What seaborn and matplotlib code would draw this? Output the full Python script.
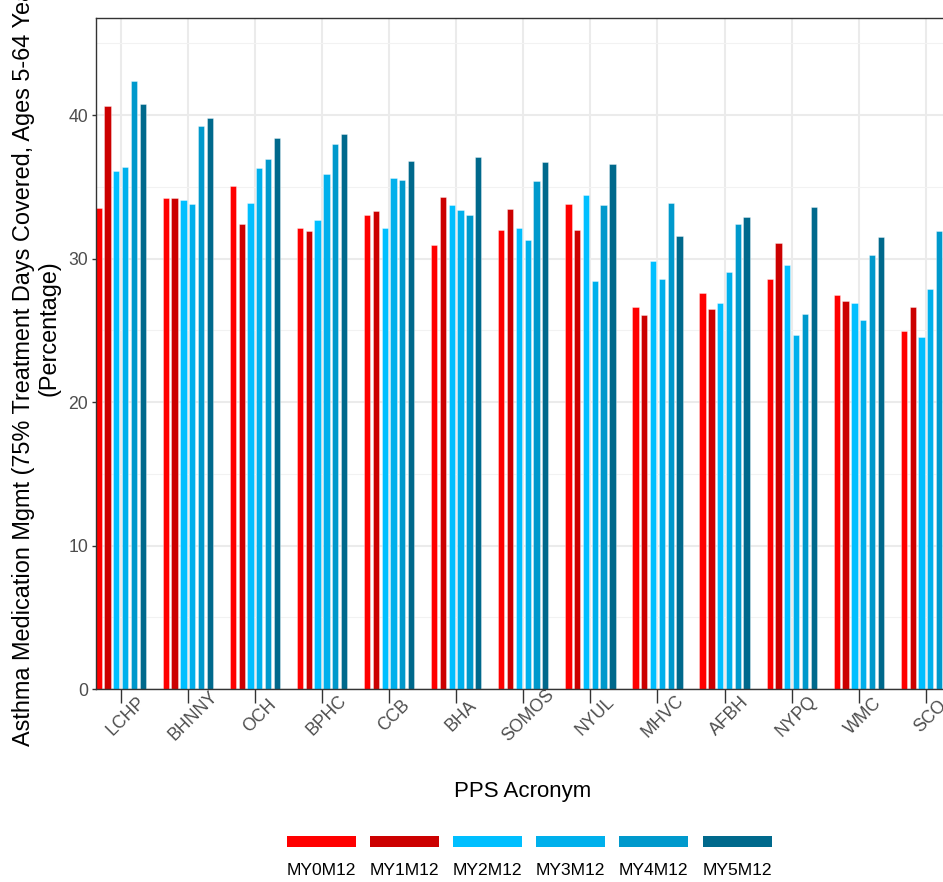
import numpy as np
import pandas as pd
import matplotlib
matplotlib.use("Agg")
import matplotlib.pyplot as plt
import matplotlib.transforms as mtransforms
from matplotlib.patches import Rectangle
from matplotlib.ticker import MultipleLocator
import seaborn as sns

pps = ["LCHP", "BHNNY", "OCH", "BPHC", "CCB", "BHA", "SOMOS",
       "NYUL", "MHVC", "AFBH", "NYPQ", "WMC", "SCO"]
periods = ["MY0M12", "MY1M12", "MY2M12", "MY3M12", "MY4M12", "MY5M12"]
colors = ["#FF0000", "#CC0000", "#00BFFF", "#00B0EC", "#0099CC", "#00698C"]

my0m12 = [33.5, 34.2, 35.05, 32.1, 33.05, 30.95, 32.0, 33.8, 26.65, 27.6, 28.6, 27.45, 24.95]
my1m12 = [40.6, 34.25, 32.4, 31.95, 33.3, 34.3, 33.45, 32.0, 26.05, 26.5, 31.1, 27.05, 26.65]
my2m12 = [36.1, 34.05, 33.85, 32.65, 32.1, 33.75, 32.15, 34.45, 29.8, 26.9, 29.55, 26.9, 24.55]
my3m12 = [36.35, 33.8, 36.3, 35.9, 35.6, 33.35, 31.3, 28.4, 28.55, 29.05, 24.7, 25.7, 27.9]
my4m12 = [42.4, 39.2, 36.9, 38.0, 35.5, 33.0, 35.4, 33.75, 33.85, 32.4, 26.1, 30.25, 31.95]
my5m12 = [40.8, 39.8, 38.4, 38.65, 36.8, 37.05, 36.75, 36.6, 31.6, 32.9, 33.6, 31.5, np.nan]

series = [my0m12, my1m12, my2m12, my3m12, my4m12, my5m12]
df = pd.DataFrame({
    "pps": np.tile(pps, len(periods)),
    "period": np.repeat(periods, len(pps)),
    "value": np.concatenate(series),
}).dropna()

sns.set_theme(style="white")
plt.rcParams["font.family"] = ["Liberation Sans", "DejaVu Sans"]

W, H = 943, 882
fig = plt.figure(figsize=(W / 100, H / 100), dpi=100)
# panel extends past the right edge, like the cropped original
left, top, bottom = 96, 18, 689
pitch = 67.1
xmin, xmax = -0.368, 13.6
ax = fig.add_axes([left / W, 1 - bottom / H,
                   (xmax - xmin) * pitch / W, (bottom - top) / H])

sns.barplot(data=df, x="pps", y="value", hue="period", order=pps,
            hue_order=periods, palette=colors, saturation=1,
            width=0.786, gap=0.28, legend=False, ax=ax,
            edgecolor=(1, 1, 1, 0.5), linewidth=0.5)

ax.set_xlim(xmin, xmax)
ax.set_ylim(0, 46.76)
ax.yaxis.set_major_locator(MultipleLocator(10))
ax.yaxis.set_minor_locator(MultipleLocator(5))
ax.set_axisbelow(True)
ax.grid(which="major", color="#EBEBEB", linewidth=1.5)
ax.grid(which="minor", axis="y", color="#F2F2F2", linewidth=0.8)

for sp in ax.spines.values():
    sp.set_color("#333333")
    sp.set_linewidth(1.0)

ax.tick_params(axis="y", which="major", length=3, width=1, color="#333333",
               labelsize=12.7, labelcolor="#4D4D4D", pad=2.5, left=True)
ax.tick_params(axis="y", which="minor", length=0)
ax.tick_params(axis="x", length=10, width=1, color="#333333",
               labelsize=12.7, labelcolor="#4D4D4D", pad=9.4, bottom=True)

offset = mtransforms.ScaledTranslation(5 / 100, 0, fig.dpi_scale_trans)
for lab in ax.get_xticklabels():
    lab.set_rotation(45)
    lab.set_rotation_mode("anchor")
    lab.set_ha("center")
    lab.set_va("center")
    lab.set_transform(lab.get_transform() + offset)

ax.set_xlabel("PPS Acronym", fontsize=16, color="black")
ax.xaxis.set_label_coords((522.5 - left) / ((xmax - xmin) * pitch),
                          (bottom - 797) / (bottom - top))
ax.xaxis.label.set_va("baseline")

ax.set_ylabel("Asthma Medication Mgmt (75% Treatment Days Covered, Ages 5-64 Years)",
              fontsize=16.9, color="black")
ax.yaxis.set_label_coords(-(left - 30) / ((xmax - xmin) * pitch), 0.5)
ax.yaxis.label.set_va("baseline")
fig.text(56 / W, 1 - 328 / H, "(Percentage)", rotation=90, fontsize=16.9,
         ha="center", va="baseline", rotation_mode="anchor", color="black")

# legend: wide keys with labels underneath
key_w, key_h, key_step = 69, 11, 83.1
key_x0, key_y = 287, 836
for i, (name, col) in enumerate(zip(periods, colors)):
    x = key_x0 + i * key_step
    fig.patches.append(Rectangle((x / W, 1 - (key_y + key_h) / H), key_w / W, key_h / H,
                                 transform=fig.transFigure, facecolor=col,
                                 edgecolor="none"))
    fig.text((x + key_w / 2) / W, 1 - 875 / H, name, ha="center", va="baseline",
             fontsize=12.6, color="black")

fig.savefig("out.png", dpi=100)
